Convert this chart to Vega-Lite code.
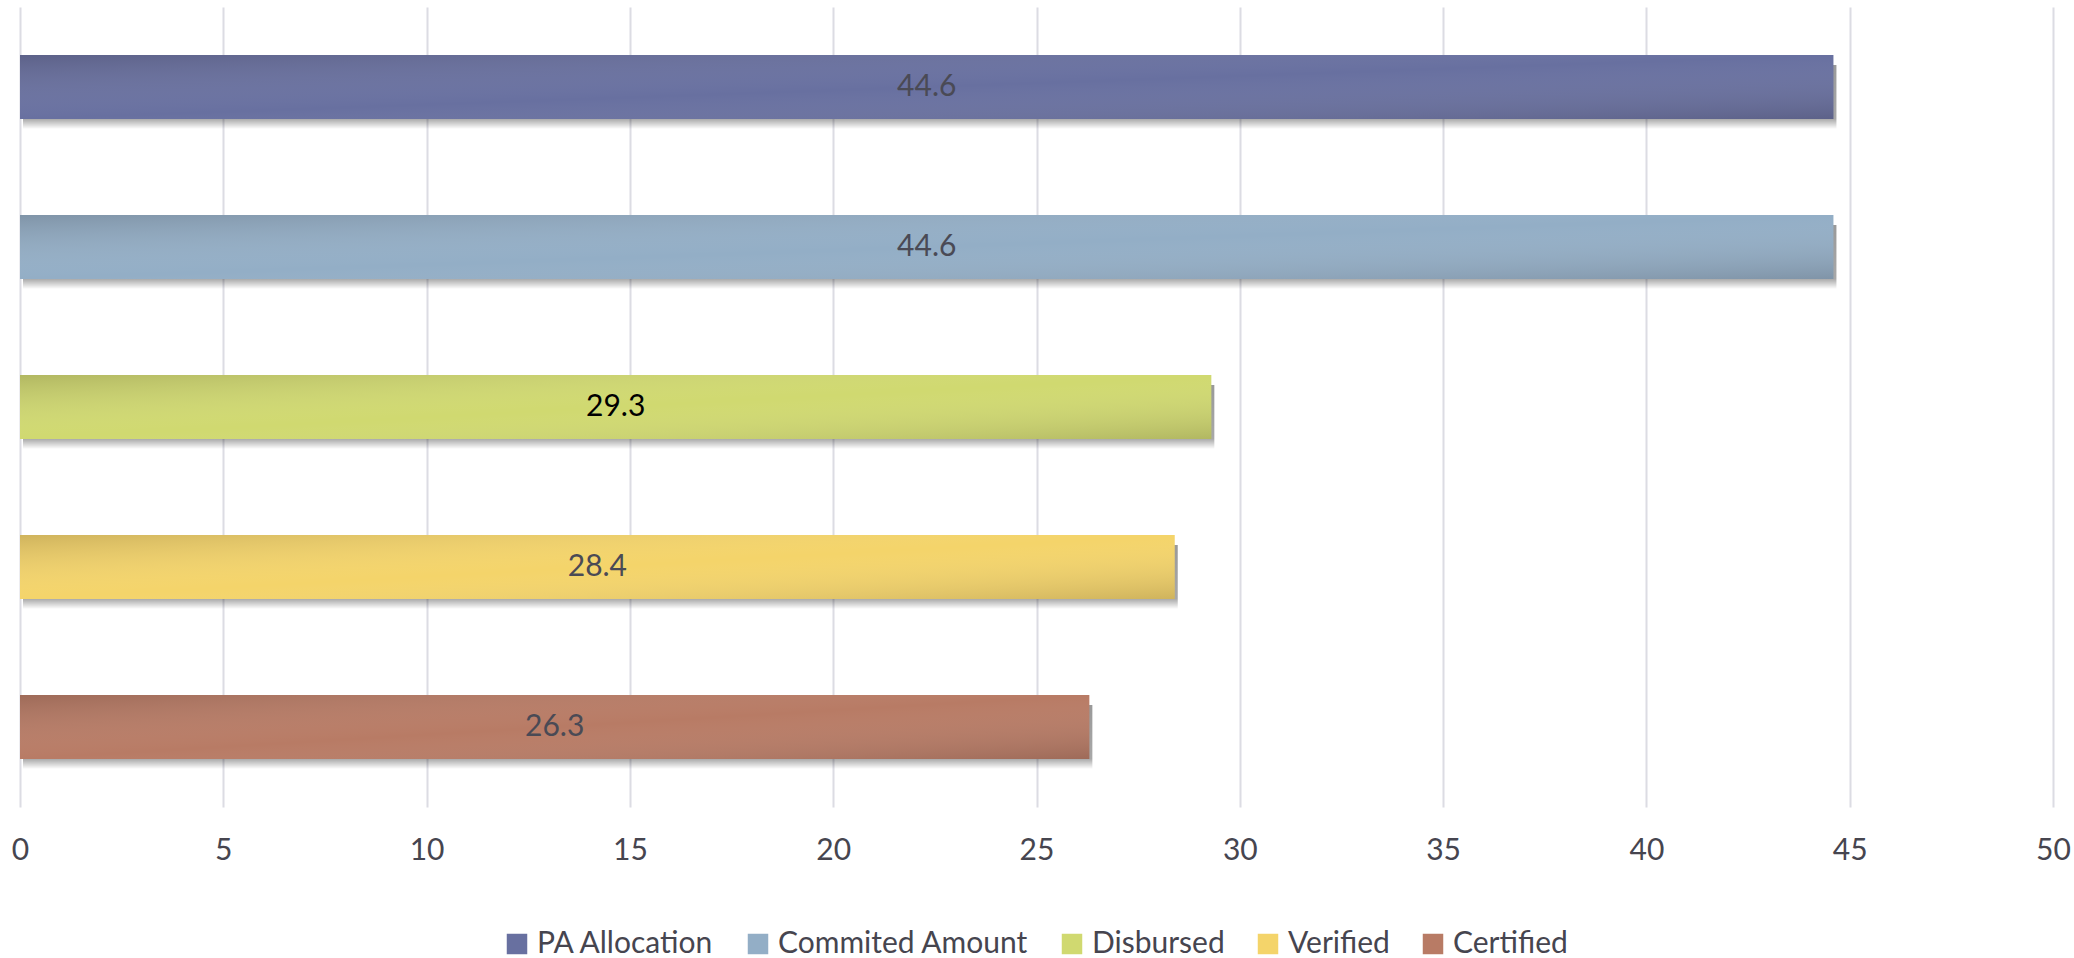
{
  "$schema": "https://vega.github.io/schema/vega-lite/v6.json",
  "autosize": {"type": "none"},
  "width": 2033,
  "height": 800,
  "padding": {"left": 20, "top": 7, "right": 21, "bottom": 151},
  "background": "white",
  "config": {"view": {"stroke": null}},
  "data": {
    "values": [
      {"cat": "PA Allocation", "value": 44.6},
      {"cat": "Commited Amount", "value": 44.6},
      {"cat": "Disbursed", "value": 29.3},
      {"cat": "Verified", "value": 28.4},
      {"cat": "Certified", "value": 26.3}
    ]
  },
  "resolve": {"scale": {"x": "independent"}},
  "encoding": {
    "y": {
      "field": "cat", "type": "nominal", "sort": null,
      "scale": {"paddingInner": 0.6, "paddingOuter": 0.3},
      "axis": null
    }
  },
  "layer": [
    {
      "encoding": {
        "x": {
          "field": "value", "type": "quantitative",
          "scale": {"domain": [0, 50], "nice": false},
          "axis": {
            "title": null, "values": [0, 5, 10, 15, 20, 25, 30, 35, 40, 45, 50],
            "grid": true, "gridColor": "#dcdce3", "gridWidth": 2,
            "domain": false, "ticks": false, "labelFlush": false,
            "labelFont": "Lato", "labelFontSize": 30, "labelColor": "#46454f",
            "labelPadding": 28
          }
        }
      },
      "layer": [
        {
          "mark": {
            "type": "bar", "xOffset": 3, "yOffset": 10, "y2Offset": 10,
            "fill": {"gradient": "linear", "x1": 0, "y1": 0, "x2": 0, "y2": 1,
              "stops": [
                {"offset": 0, "color": "rgba(0,0,0,0.4)"},
                {"offset": 0.84, "color": "rgba(0,0,0,0.34)"},
                {"offset": 1, "color": "rgba(0,0,0,0)"}
              ]}
          }
        },
        {
          "mark": {"type": "bar"},
          "encoding": {
            "color": {
              "field": "cat", "type": "nominal",
              "scale": {
                "domain": ["PA Allocation", "Commited Amount", "Disbursed", "Verified", "Certified"],
                "range": ["#6870a0", "#93aec6", "#d0d970", "#f4d46a", "#b87b65"]
              },
              "legend": {
                "orient": "none", "legendX": 482, "legendY": 922,
                "direction": "horizontal", "title": null,
                "symbolType": "square", "symbolSize": 420, "symbolStrokeWidth": 0,
                "labelFont": "Lato", "labelFontSize": 30, "labelColor": "#46454f",
                "labelOffset": 5, "columnPadding": 28, "labelLimit": 500
              }
            }
          }
        },
        {
          "mark": {
            "type": "bar",
            "fill": {"gradient": "linear", "x1": 0, "y1": 0, "x2": 1, "y2": 1,
              "stops": [
                {"offset": 0, "color": "rgba(40,30,30,0.18)"},
                {"offset": 0.5, "color": "rgba(255,255,255,0)"},
                {"offset": 1, "color": "rgba(40,30,30,0.18)"}
              ]}
          }
        }
      ]
    },
    {
      "mark": {"type": "text", "font": "Lato", "fontSize": 30, "baseline": "middle", "align": "center"},
      "encoding": {
        "x": {"field": "value", "type": "quantitative", "scale": {"domain": [0, 100], "nice": false}, "axis": null},
        "text": {"field": "value", "type": "quantitative", "format": ".1f"},
        "color": {
          "condition": {"test": "datum.cat === 'Disbursed'", "value": "#000000"},
          "value": "#4a4a55"
        }
      }
    }
  ]
}
